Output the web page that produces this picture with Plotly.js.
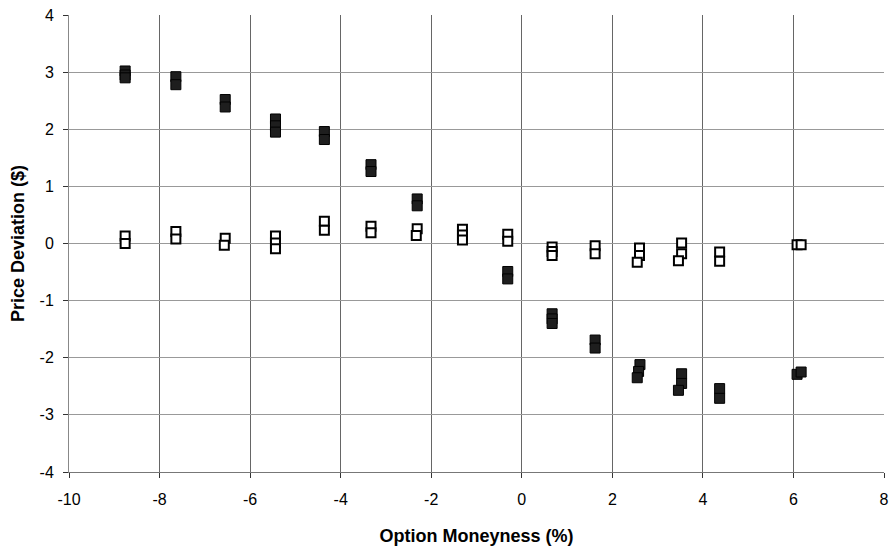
<!DOCTYPE html>
<html>
<head>
<meta charset="utf-8">
<script src="https://cdn.plot.ly/plotly-3.0.1.min.js"></script>
<style>html,body{margin:0;padding:0;background:#fff;}#chart{width:894px;height:546px;}</style>
</head>
<body>
<div id="chart"></div>
<script>
// Filled squares (series A)
var filledX = [-8.76, -8.76, -8.76, -7.64, -7.64, -6.55, -6.55, -5.44, -5.44, -5.44, -4.36, -4.36,
               -3.33, -3.33, -2.31, -2.31, -0.31, -0.31, 0.67, 0.67, 0.67, 1.62, 1.62,
               2.61, 2.58, 2.55, 3.53, 3.53, 3.46, 4.37, 4.37, 6.08, 6.17];
var filledY = [3.02, 2.95, 2.90, 2.92, 2.78, 2.52, 2.39, 2.18, 2.06, 1.95, 1.96, 1.82,
               1.38, 1.26, 0.78, 0.66, -0.49, -0.62, -1.23, -1.32, -1.40, -1.69, -1.83,
               -2.12, -2.24, -2.35, -2.28, -2.45, -2.57, -2.54, -2.71, -2.29, -2.25];
// Open squares (series B)
var openX = [-8.76, -8.76, -7.64, -7.64, -6.55, -6.57, -5.44, -5.44, -5.44, -4.36, -4.36,
             -3.33, -3.33, -2.31, -2.33, -1.31, -1.31, -1.31, -0.31, -0.31, 0.67, 0.67, 0.67,
             1.62, 1.62, 2.60, 2.60, 2.55, 3.53, 3.53, 3.46, 4.37, 4.37, 6.08, 6.17];
var openY = [0.13, 0.00, 0.21, 0.08, 0.09, -0.03, 0.13, 0.01, -0.09, 0.39, 0.23,
             0.30, 0.19, 0.26, 0.14, 0.25, 0.15, 0.06, 0.16, 0.04, -0.06, -0.14, -0.21,
             -0.04, -0.18, -0.08, -0.21, -0.33, 0.01, -0.18, -0.30, -0.15, -0.31, -0.02, -0.02];
var xTicks = [-10, -8, -6, -4, -2, 0, 2, 4, 6, 8];
var yTicks = [-4, -3, -2, -1, 0, 1, 2, 3, 4];

var traces = [
  {x: filledX, y: filledY, type: 'scatter', mode: 'markers', name: 'A',
   marker: {symbol: 'square', size: 10, color: '#1e1e1e', line: {color: '#000', width: 1}}},
  {x: openX, y: openY, type: 'scatter', mode: 'markers', name: 'B',
   marker: {symbol: 'square', size: 9, color: '#ffffff', line: {color: '#000', width: 2}}}
];
var fontFam = 'Liberation Sans, Arial, sans-serif';
var layout = {
  width: 894, height: 546,
  margin: {l: 69, r: 10, t: 15, b: 74},
  paper_bgcolor: '#fff', plot_bgcolor: '#fff',
  showlegend: false,
  font: {family: fontFam, size: 16, color: '#000'},
  xaxis: {
    range: [-10, 8], tickvals: xTicks, ticktext: xTicks.map(String),
    showgrid: true, gridcolor: '#666', gridwidth: 1, zeroline: false,
    showline: true, linecolor: '#777', linewidth: 1, mirror: false,
    ticks: 'outside', ticklen: 5, tickcolor: '#333', ticklabelstandoff: 8,
    tickfont: {family: fontFam, size: 16, color: '#000'},
    title: {text: 'Option Moneyness (%)', font: {family: fontFam, size: 18, color: '#000', weight: 'bold'}, standoff: 22},
    automargin: false
  },
  yaxis: {
    range: [-4, 4], tickvals: yTicks, ticktext: yTicks.map(String),
    showgrid: true, gridcolor: '#999', gridwidth: 1, zeroline: false,
    showline: true, linecolor: '#888', linewidth: 1,
    ticks: 'outside', ticklen: 5, tickcolor: '#333', ticklabelstandoff: 6,
    tickfont: {family: fontFam, size: 16, color: '#000'},
    title: {text: 'Price Deviation ($)', font: {family: fontFam, size: 18, color: '#000', weight: 'bold'}, standoff: 10},
    automargin: false
  }
};
Plotly.newPlot('chart', traces, layout, {displayModeBar: false, staticPlot: true});
</script>
</body>
</html>
